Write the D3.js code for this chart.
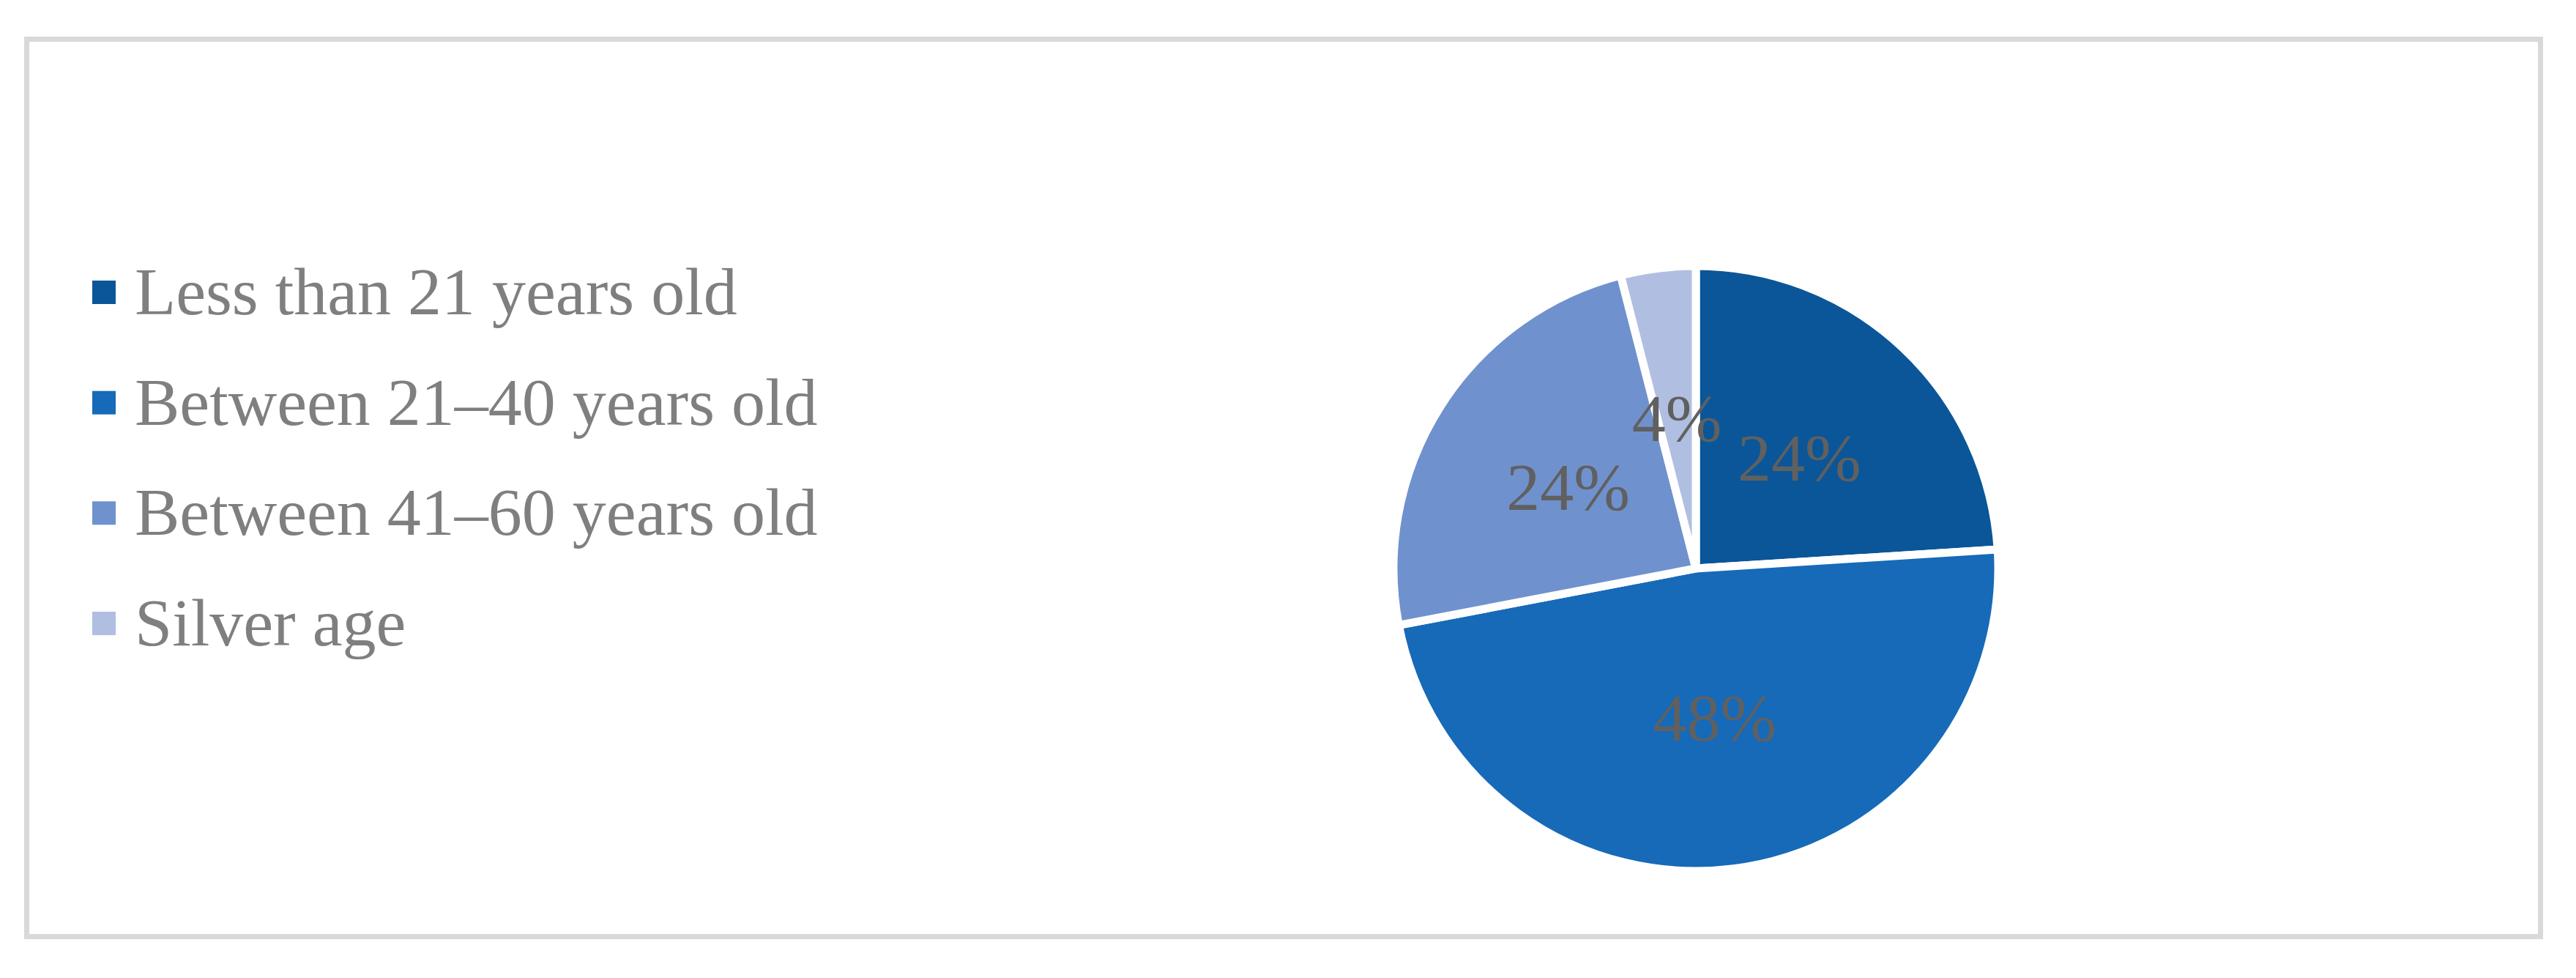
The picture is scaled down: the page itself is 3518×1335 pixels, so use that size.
<!DOCTYPE html>
<html>
<head>
<meta charset="utf-8">
<script src="https://cdn.jsdelivr.net/npm/d3@7"></script>
<style>
    html, body { margin: 0; padding: 0; background: #ffffff; }
    svg { display: block; }
    text { font-family: "Liberation Serif", "Times New Roman", serif; }
</style>
</head>
<body>
<div id="chart"></div>
<script>
//Datos del gráfico
const categories = ['Less than 21 years old', 'Between 21–40 years old', 'Between 41–60 years old', 'Silver age'];
const shares = [24, 48, 24, 4];
const sliceLabels = ['24%', '48%', '24%', '4%'];
const colors = ['#0a5699', '#166ab8', '#6f92ce', '#b0bfe1'];

const W = 3518, H = 1335;

let svg = d3.select('#chart')
    .append('svg')
    .attr('width', W)
    .attr('height', H);

//Marco exterior
svg.append('rect')
    .attr('x', 36.5)
    .attr('y', 53.5)
    .attr('width', 3433)
    .attr('height', 1225)
    .attr('fill', '#ffffff')
    .attr('stroke', '#d9d9d9')
    .attr('stroke-width', 7);

///// TARTA
let cx = 2316, cy = 776, radius = 413;

let pie = d3.pie()
    .sort(null)
    .value(function(d) { return d.value; });

let data = categories.map(function(c, i) {
    return { name: c, value: shares[i], label: sliceLabels[i], color: colors[i] };
});

let arc = d3.arc()
    .innerRadius(0)
    .outerRadius(radius);

let g = svg.append('g')
    .attr('transform', 'translate(' + cx + ',' + cy + ')');

g.selectAll('path')
    .data(pie(data))
    .enter()
    .append('path')
    .attr('d', arc)
    .attr('fill', function(d) { return d.data.color; })
    .attr('stroke', '#ffffff')
    .attr('stroke-width', 11)
    .attr('stroke-linejoin', 'miter');

g.selectAll('.slice-label')
    .data(pie(data))
    .enter()
    .append('text')
    .attr('class', 'slice-label')
    .attr('transform', function(d) { return 'translate(' + arc.centroid(d) + ')'; })
    .attr('text-anchor', 'middle')
    .attr('dy', '0.33em')
    .attr('font-size', 92)
    .attr('fill', '#606060')
    .text(function(d) { return d.data.label; });

///// LEYENDA
let legendY = d3.scalePoint()
    .domain(categories)
    .range([399, 851]);

let legend = svg.append('g');

let items = legend.selectAll('g')
    .data(data)
    .enter()
    .append('g')
    .attr('transform', function(d) { return 'translate(126,' + legendY(d.name) + ')'; });

items.append('rect')
    .attr('x', 0)
    .attr('y', -16)
    .attr('width', 32)
    .attr('height', 32)
    .attr('fill', function(d) { return d.color; });

items.append('text')
    .attr('x', 58)
    .attr('y', 30)
    .attr('font-size', 92)
    .attr('fill', '#7f7f7f')
    .text(function(d) { return d.name; });
</script>
</body>
</html>
